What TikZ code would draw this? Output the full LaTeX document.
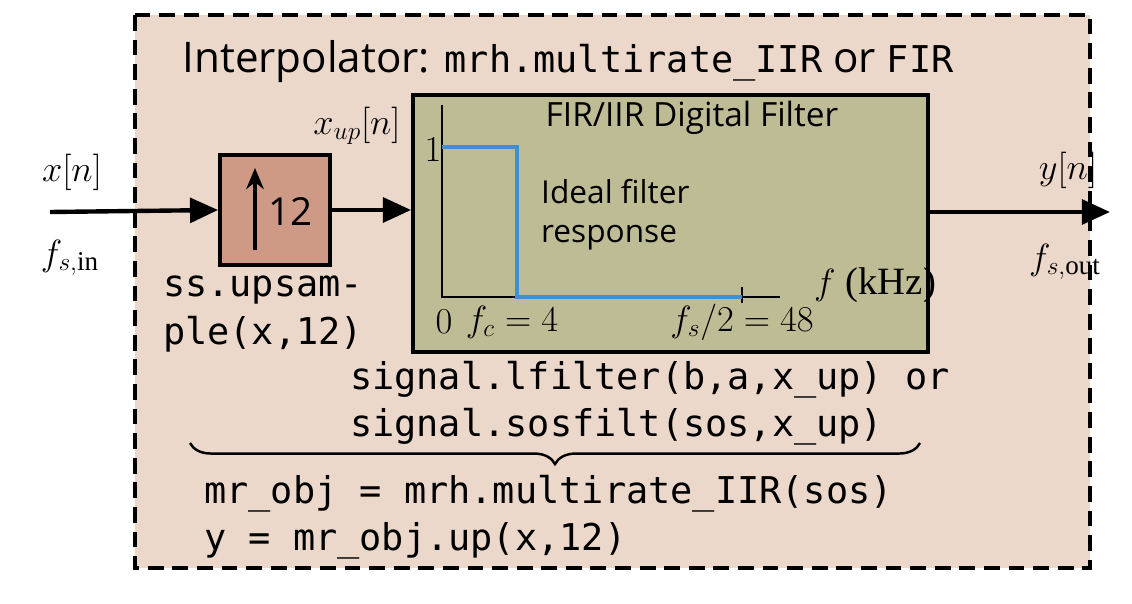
\documentclass[tikz,border=0pt]{standalone}
\usepackage{amsmath}
\usepackage{fontspec}
\setmainfont{Open Sans}
\setmonofont{DejaVu Sans Mono}
\newfontfamily\serif{Liberation Serif}
\usetikzlibrary{decorations.pathreplacing,arrows.meta}
\definecolor{peach}{HTML}{EBD8CA}
\definecolor{upred}{HTML}{CE9A86}
\definecolor{olive}{HTML}{BEBC94}
\definecolor{resp}{HTML}{3F8FD2}
\newcommand{\us}{\char`\_}
\tikzset{
  blk/.style={draw,line width=2.2pt},
  sig/.style={line width=2.5pt,-{Triangle[length=16pt,width=14pt]}},
  code/.style={font=\fontsize{21}{27}\selectfont\ttfamily,align=left},
  lbl/.style={font=\fontsize{22}{26}\selectfont},
  sml/.style={font=\fontsize{17}{21}\selectfont},
}
\begin{document}
\begin{tikzpicture}[x=0.02cm,y=-0.02cm]
	\useasboundingbox (0,0) rectangle (1132,604);
	\draw[fill=peach,line width=2.2pt,dash pattern=on 9pt off 5pt] (135,15) rectangle (1090,568);
	\node (title) at (568,62) {\fontsize{24}{28}\selectfont Interpolator: \texttt{\fontsize{21}{26}\selectfont mrh.multirate\us IIR} or \texttt{\fontsize{21}{26}\selectfont FIR}};
	% upsampler and filter blocks
	\node[blk,fill=upred,minimum width=110*0.02cm,minimum height=110*0.02cm] (up) at (275,210) {};
	\draw[line width=2pt,-{Stealth[length=12pt,width=10pt]}] (255,250) -- (255,168);
	\node[lbl,anchor=west] (twelve) at (262,212) {12};
	\node[blk,fill=olive,minimum width=515*0.02cm,minimum height=257*0.02cm] (filt) at (670.5,223.5) {};
	\node[font=\fontsize{19}{22}\selectfont] (ftitle) at (692,118) {FIR/IIR Digital Filter};
	% response plot
	\draw[line width=0.8pt] (442,105) -- (442,297) -- (780,297);
	\draw[line width=0.8pt] (742,287) -- (742,303);
	\draw[resp,line width=2.5pt] (442,147) -- (517,147) -- (517,297) -- (742,297);
	\node[lbl] (one) at (433,150) {$1$};
	\node[lbl] (zero) at (444,322) {$0$};
	\node[lbl] (fc) at (512,322) {$f_c=4$};
	\node[lbl] (fs) at (742,322) {$f_s/2=48$};
	\node[lbl,anchor=west] (fax) at (808,285) {$f$\ {\serif (kHz)}};
	\node[sml,font=\fontsize{18}{22}\selectfont,align=left,anchor=west] (ideal) at (535,215) {Ideal filter\\response};
	% signal path
	\coordinate (in) at (50,212);
	\coordinate (out) at (1110,212);
	\draw[sig] (in) -- (up.west);
	\draw[sig] (up.east) -- (filt.west |- up.east);
	\draw[sig] (filt.east |- out) -- (out);
	\node[lbl] (xn) at (72,172) {$x[n]$};
	\node[lbl] (fsin) at (70,258) {$f_{s,\text{\serif in}}$};
	\node[lbl] (xup) at (357,126) {$x_{up}[n]$};
	\node[lbl] (yn) at (1068,170) {$y[n]$};
	\node[lbl] (fsout) at (1065,262) {$f_{s,\text{\serif out}}$};
	% code annotations
	\node[code] (upcode) at (263,314) {ss.upsam-\\ple(x,12)};
	\node[code] (fcode) at (650,403) {signal.lfilter(b,a,x\us up) or\\signal.sosfilt(sos,x\us up)};
	\draw[line width=1.4pt,decorate,decoration={brace,mirror,amplitude=12pt}] (190,443) -- (920,443);
	\node[code,anchor=west] (objcode) at (198,517) {mr\us obj = mrh.multirate\us IIR(sos)\\y = mr\us obj.up(x,12)};
\end{tikzpicture}
\end{document}
